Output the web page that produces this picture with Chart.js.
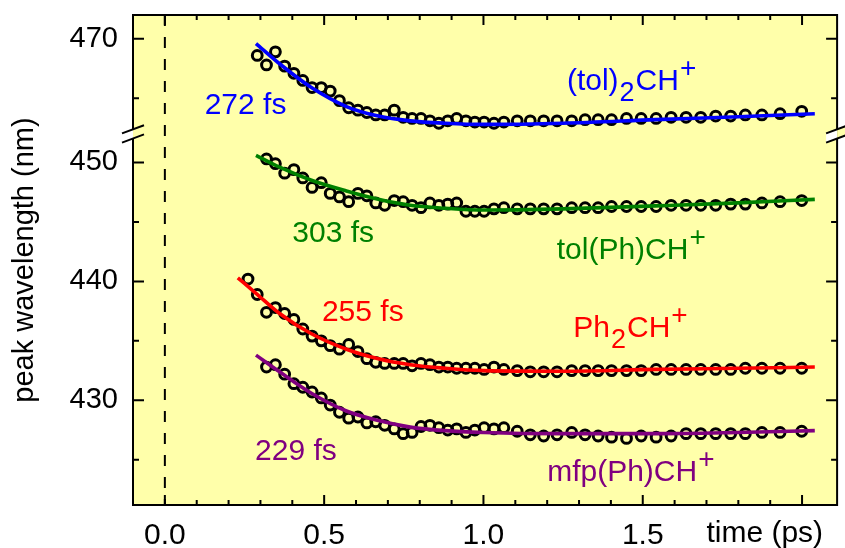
<!DOCTYPE html>
<html>
<head>
<meta charset="utf-8">
<script src="https://cdn.jsdelivr.net/npm/chart.js@4.4.1/dist/chart.umd.min.js"></script>
<style>
html,body{margin:0;padding:0;background:#ffffff;}
#wrap{width:845px;height:548px;}
</style>
</head>
<body>
<div id="wrap"><canvas id="c" width="845" height="548"></canvas></div>
<script>
// ---------------- DATA ----------------
// delay times (ps) of the measured points
const TIME = [0.261, 0.290, 0.319, 0.347, 0.376, 0.405, 0.433, 0.462, 0.491, 0.519,
              0.548, 0.577, 0.606, 0.634, 0.662, 0.690, 0.720, 0.748, 0.776, 0.804,
              0.832, 0.860, 0.888, 0.916, 0.945, 0.973, 1.002, 1.033, 1.064,
              1.106, 1.147, 1.189, 1.231, 1.277, 1.319, 1.360, 1.402, 1.449, 1.495,
              1.542, 1.589, 1.636, 1.682, 1.729, 1.776, 1.822, 1.874, 1.931, 1.999];

// peak wavelength (nm) of each cation
const TOL2_CH = [null, 468.6, 467.8, 468.9, 467.7, 467.1, 466.5, 465.9, 465.9, 465.6,
                 464.8, 464.2, 464.0, 463.8, 463.6, 463.6, 464.0, 463.4, 463.3, 463.3,
                 463.1, 462.9, 463.1, 463.3, 463.1, 463.0, 463.0, 462.9, 463.0,
                 463.1, 463.1, 463.1, 463.1, 463.1, 463.2, 463.2, 463.2, 463.3, 463.3,
                 463.3, 463.4, 463.4, 463.4, 463.5, 463.5, 463.6, 463.6, 463.7, 463.9];
const TOLPH_CH = [null, null, 450.3, 449.9, 449.1, 449.4, 448.7, 447.9, 448.3, 447.4,
                  447.1, 446.7, 447.4, 447.2, 446.6, 446.4, 446.8, 446.7, 446.4, 446.2,
                  446.6, 446.4, 446.5, 446.6, 445.9, 445.9, 445.9, 446.1, 446.2,
                  446.1, 446.1, 446.1, 446.1, 446.2, 446.2, 446.2, 446.3, 446.3, 446.3,
                  446.3, 446.4, 446.4, 446.4, 446.4, 446.5, 446.5, 446.6, 446.7, 446.8];
const PH2_CH = [440.2, 438.9, 437.4, 437.8, 437.3, 436.8, 436.0, 435.4, 435.0, 434.6,
                434.3, 434.7, 434.1, 433.5, 433.2, 433.1, 433.1, 433.1, 432.9, 433.1,
                433.0, 432.8, 432.8, 432.7, 432.7, 432.7, 432.6, 432.8, 432.6,
                432.5, 432.4, 432.4, 432.4, 432.5, 432.5, 432.5, 432.5, 432.5, 432.5,
                432.6, 432.6, 432.6, 432.6, 432.6, 432.6, 432.7, 432.7, 432.7, 432.7];
const MFP_CH = [null, null, 432.8, 433.0, 432.2, 431.4, 431.1, 430.7, 430.2, 429.6,
                429.0, 428.5, 428.6, 428.1, 428.2, 427.9, 427.6, 427.2, 427.3, 427.8,
                427.9, 427.7, 427.5, 427.6, 427.3, 427.5, 427.7, 427.6, 427.7,
                427.4, 427.1, 427.0, 427.1, 427.3, 427.1, 427.0, 426.9, 426.8, 427.0,
                426.9, 427.0, 427.2, 427.2, 427.2, 427.2, 427.2, 427.3, 427.3, 427.4];

// exponential fit curves
const FIT_TIME  = [0.229, 0.286, 0.36, 0.46, 0.57, 0.67, 0.77, 0.88, 1.0, 1.25, 1.54, 1.8, 2.04];
const TOL2_FIT  = [null, 469.6, 467.9, 465.9, 464.3, 463.5, 463.1, 462.9, 462.8, 462.9, 463.2, 463.45, 463.7];
const TOLPH_FIT = [null, 450.6, 449.6, 448.5, 447.6, 446.9, 446.4, 446.15, 446.0, 446.1, 446.35, 446.6, 446.9];
const PH2_FIT   = [440.3, 439.0, 437.3, 435.6, 434.3, 433.5, 433.0, 432.7, 432.5, 432.45, 432.6, 432.7, 432.8];
const MFP_FIT   = [null, 433.8, 432.4, 430.6, 429.1, 428.3, 427.75, 427.45, 427.3, 427.2, 427.2, 427.3, 427.45];

// axis ticks
const X_MAJOR = [0.0, 0.5, 1.0, 1.5, 2.0];
const X_LABELED = [0.0, 0.5, 1.0, 1.5];
const X_MINOR = [0.1, 0.2, 0.3, 0.4, 0.6, 0.7, 0.8, 0.9, 1.1, 1.2, 1.3, 1.4, 1.6, 1.7, 1.8, 1.9];
const Y_MAJOR = [430, 440, 450, 470];
const Y_MINOR = [425, 435, 445, 465];

// broken y axis: lower segment and upper segment (nm)
const LOWER_RANGE = [421.2, 452.4];
const UPPER_RANGE = [462.0, 472.0];

// ---------------- STYLE / LAYOUT ----------------
const FONT = "'Liberation Sans', Arial, Helvetica, sans-serif";
const BG = '#FFFFAA';
const C_BLUE = '#0000FF', C_GREEN = '#008000', C_RED = '#FF0000', C_PURPLE = '#800080';

const OFFSET = UPPER_RANGE[0] - LOWER_RANGE[1];
const toDisp = v => (v >= UPPER_RANGE[0] - 1e-9 ? v - OFFSET : v);
const fromDisp = v => (v > LOWER_RANGE[1] + 1e-9 ? v + OFFSET : v);

const LABELS = [
  {t: 0.125, v: 463.7, color: C_BLUE,   parts: [['272 fs', 'n']]},
  {t: 1.262, v: 465.7, color: C_BLUE,   parts: [['(tol)', 'n'], ['2', 'sub'], ['CH', 'n'], ['+', 'sup']]},
  {t: 0.400, v: 443.3, color: C_GREEN,  parts: [['303 fs', 'n']]},
  {t: 1.230, v: 441.9, color: C_GREEN,  parts: [['tol(Ph)CH', 'n'], ['+', 'sup']]},
  {t: 0.493, v: 436.7, color: C_RED,    parts: [['255 fs', 'n']]},
  {t: 1.282, v: 435.3, color: C_RED,    parts: [['Ph', 'n'], ['2', 'sub'], ['CH', 'n'], ['+', 'sup']]},
  {t: 0.283, v: 425.0, color: C_PURPLE, parts: [['229 fs', 'n']]},
  {t: 1.200, v: 423.2, color: C_PURPLE, parts: [['mfp(Ph)CH', 'n'], ['+', 'sup']]}
];

function pts(xs, ys) {
  const out = [];
  xs.forEach((x, i) => { if (ys[i] !== null && ys[i] !== undefined) out.push({x: x, y: toDisp(ys[i])}); });
  return out;
}

const SERIES = [
  {vals: TOL2_CH, fit: TOL2_FIT, color: C_BLUE},
  {vals: TOLPH_CH, fit: TOLPH_FIT, color: C_GREEN},
  {vals: PH2_CH, fit: PH2_FIT, color: C_RED},
  {vals: MFP_CH, fit: MFP_FIT, color: C_PURPLE}
];

const datasets = [];
SERIES.forEach(s => {
  datasets.push({
    data: pts(FIT_TIME, s.fit), showLine: true, borderColor: s.color, borderWidth: 3.6,
    pointRadius: 0, cubicInterpolationMode: 'monotone', order: 0
  });
  datasets.push({
    data: pts(TIME, s.vals), showLine: false, pointStyle: 'circle', pointRadius: 4.9,
    borderWidth: 3, borderColor: '#000', backgroundColor: 'rgba(0,0,0,0)', order: 1
  });
});

function drawRich(ctx, x, y, color, parts) {
  ctx.fillStyle = color;
  ctx.textAlign = 'left';
  ctx.textBaseline = 'alphabetic';
  let cx = x;
  parts.forEach(([txt, kind]) => {
    let size = 30, dy = 0;
    if (kind === 'sub') { size = 27; dy = 11; }
    if (kind === 'sup') { size = 28; dy = -13; }
    ctx.font = size + 'px ' + FONT;
    ctx.fillText(txt, cx, y + dy);
    cx += ctx.measureText(txt).width + (kind === 'sup' ? 0 : 1);
  });
}

const decor = {
  id: 'decor',
  beforeDraw(chart) {
    const {ctx, chartArea: a} = chart;
    const xs = chart.scales.x;
    ctx.save();
    ctx.fillStyle = '#ffffff';
    ctx.fillRect(0, 0, chart.width, chart.height);
    ctx.fillStyle = BG;
    ctx.fillRect(a.left, a.top, a.right - a.left, a.bottom - a.top);
    const x0 = xs.getPixelForValue(0);
    ctx.strokeStyle = '#000';
    ctx.lineWidth = 2;
    ctx.setLineDash([11, 11]);
    ctx.beginPath();
    ctx.moveTo(x0, a.top);
    ctx.lineTo(x0, a.bottom);
    ctx.stroke();
    ctx.restore();
  },
  afterDraw(chart) {
    const {ctx, chartArea: a} = chart;
    const xs = chart.scales.x, ys = chart.scales.y;
    ctx.save();
    ctx.strokeStyle = '#000';
    ctx.lineWidth = 2;
    ctx.setLineDash([]);
    ctx.strokeRect(a.left, a.top, a.right - a.left, a.bottom - a.top);
    ctx.beginPath();
    // x ticks (bottom and top, inward)
    const xt = (v, len) => {
      const p = xs.getPixelForValue(v);
      ctx.moveTo(p, a.bottom); ctx.lineTo(p, a.bottom - len);
      ctx.moveTo(p, a.top); ctx.lineTo(p, a.top + len);
    };
    X_MAJOR.forEach(v => xt(v, 10));
    X_MINOR.forEach(v => xt(v, 5));
    // y ticks (left and right, inward)
    const yt = (v, len) => {
      const p = ys.getPixelForValue(toDisp(v));
      ctx.moveTo(a.left, p); ctx.lineTo(a.left + len, p);
      ctx.moveTo(a.right, p); ctx.lineTo(a.right - len, p);
    };
    Y_MAJOR.forEach(v => yt(v, 11));
    Y_MINOR.forEach(v => yt(v, 6));
    ctx.stroke();

    // axis break marks
    const yb = ys.getPixelForValue(LOWER_RANGE[1]);
    [a.left, a.right].forEach(xa => {
      const hw = 11, sl = 4.1, g = 4.6;
      ctx.save();
      ctx.beginPath();
      ctx.moveTo(xa - hw, yb - g + sl);
      ctx.lineTo(xa + hw, yb - g - sl);
      ctx.lineTo(xa + hw, yb + g - sl);
      ctx.lineTo(xa - hw, yb + g + sl);
      ctx.closePath();
      ctx.clip();
      ctx.fillStyle = '#ffffff';
      ctx.fillRect(xa - hw - 1, yb - 20, hw + 1, 40);
      ctx.fillStyle = BG;
      ctx.fillRect(xa, yb - 20, hw + 1, 40);
      ctx.restore();
      ctx.beginPath();
      ctx.moveTo(xa - hw, yb - g + sl); ctx.lineTo(xa + hw, yb - g - sl);
      ctx.moveTo(xa - hw, yb + g + sl); ctx.lineTo(xa + hw, yb + g - sl);
      ctx.lineWidth = 2;
      ctx.stroke();
    });

    // annotations
    LABELS.forEach(l => {
      drawRich(ctx, xs.getPixelForValue(l.t), ys.getPixelForValue(toDisp(l.v)), l.color, l.parts);
    });

    // x axis title placed where the 2.0 label would be
    ctx.font = '30px ' + FONT;
    ctx.fillStyle = '#000';
    ctx.textAlign = 'right';
    ctx.textBaseline = 'alphabetic';
    ctx.fillText('time (ps)', a.right - 14, 541.5);
    ctx.restore();
  }
};

new Chart(document.getElementById('c'), {
  type: 'scatter',
  data: {datasets: datasets},
  options: {
    responsive: false,
    devicePixelRatio: 1,
    animation: false,
    layout: {padding: {top: 15, right: 3, left: 0, bottom: 0}},
    plugins: {legend: {display: false}, tooltip: {enabled: false}},
    scales: {
      x: {
        type: 'linear', min: -0.1, max: 2.11,
        grid: {display: false, drawTicks: false},
        border: {display: false},
        afterBuildTicks: s => { s.ticks = X_LABELED.map(v => ({value: v})); },
        afterFit: s => { s.height = 43; s.paddingLeft = 0; s.paddingRight = 0; },
        ticks: {
          color: '#000', padding: 13, maxRotation: 0, autoSkip: false,
          font: {family: FONT, size: 30},
          callback: v => Number(v).toFixed(1)
        }
      },
      y: {
        type: 'linear', min: LOWER_RANGE[0], max: UPPER_RANGE[1] - OFFSET,
        grid: {display: false, drawTicks: false},
        border: {display: false},
        afterBuildTicks: s => { s.ticks = Y_MAJOR.map(v => ({value: toDisp(v)})); },
        afterFit: s => { s.width = 133; s.paddingTop = 0; s.paddingBottom = 0; },
        title: {display: true, text: 'peak wavelength (nm)', color: '#000',
                font: {family: FONT, size: 29}, padding: {top: 8, bottom: 0}},
        ticks: {
          color: '#000', padding: 15, autoSkip: false,
          font: {family: FONT, size: 29},
          callback: v => String(Math.round(fromDisp(v)))
        }
      }
    }
  },
  plugins: [decor]
});
</script>
</body>
</html>
